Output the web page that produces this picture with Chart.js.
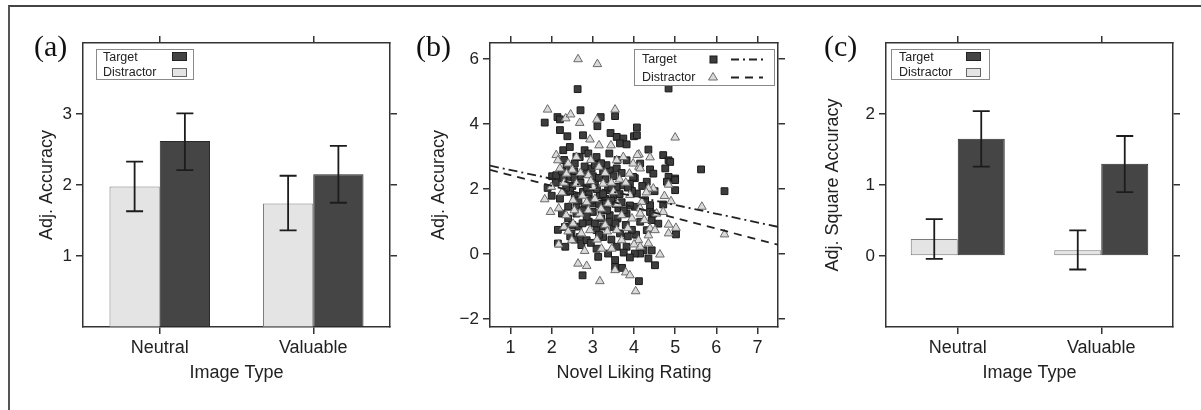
<!DOCTYPE html>
<html>
<head>
<meta charset="utf-8">
<script src="https://cdn.jsdelivr.net/npm/chart.js@4.4.1/dist/chart.umd.min.js"></script>
<style>
    body { margin: 0; background: #fff; }
    #fig { position: relative; width: 1201px; height: 410px; overflow: hidden; background: #fff; font-family: 'Liberation Sans', Arial, sans-serif; color: #222; }
    #fig canvas { position: absolute; top: 0; }
    .frame { position: absolute; left: 8px; top: 5px; right: -4px; bottom: -4px; border-top: 2px solid #444; border-left: 2px solid #555; }
    .tag { position: absolute; top: 31px; font: 30px 'Liberation Serif', 'DejaVu Serif', serif; line-height: 30px; color: #111; }
    .key { position: absolute; box-sizing: border-box; border: 1.5px solid #8a8a8a; background: #fff; font-size: 12.5px; line-height: 15px; }
    .key span { position: absolute; }
    .sw { position: absolute; width: 15px; height: 9px; box-sizing: border-box; }
    .sw.dark { background: #444; border: 1px solid #222; }
    .sw.light { background: #e4e4e4; border: 1px solid #666; }
</style>
</head>
<body>
<div id="fig">
    <div class="frame"></div>
    <canvas id="chartA" width="400" height="410" style="left:0"></canvas>
    <canvas id="chartB" width="400" height="410" style="left:400px"></canvas>
    <canvas id="chartC" width="401" height="410" style="left:800px"></canvas>

    <div class="tag" style="left:34px">(a)</div>
    <div class="tag" style="left:416px">(b)</div>
    <div class="tag" style="left:824px">(c)</div>

    <div class="key" style="left:96px;top:49px;width:98px;height:31px">
        <span style="left:6px;top:0">Target</span>
        <span style="left:6px;top:15px">Distractor</span>
        <div class="sw dark" style="left:75px;top:2px"></div>
        <div class="sw light" style="left:75px;top:18px"></div>
    </div>

    <div class="key" style="left:634px;top:49px;width:141px;height:37px">
        <span style="left:7px;top:2px">Target</span>
        <span style="left:7px;top:20px">Distractor</span>
        <svg width="141" height="37" style="position:absolute;left:-1.5px;top:-1.5px">
            <rect x="76" y="7" width="7" height="7" fill="#3d3d3d" stroke="#1a1a1a" stroke-width="1"/>
            <polygon points="79,23.5 83.5,31 74.5,31" fill="#d9d9d9" stroke="#6e6e6e" stroke-width="1"/>
            <line x1="97" y1="10.5" x2="131" y2="10.5" stroke="#222" stroke-width="2" stroke-dasharray="8 4 2 4"/>
            <line x1="97" y1="28.5" x2="129" y2="28.5" stroke="#222" stroke-width="2" stroke-dasharray="8 6"/>
        </svg>
    </div>

    <div class="key" style="left:891px;top:49px;width:99px;height:31px">
        <span style="left:7px;top:0">Target</span>
        <span style="left:7px;top:15px">Distractor</span>
        <div class="sw dark" style="left:74px;top:2px"></div>
        <div class="sw light" style="left:74px;top:18px"></div>
    </div>
</div>

<script>
// ---- data ----
const imageTypes = ['Neutral', 'Valuable'];

// (a) adjusted accuracy
const accTarget = [2.62, 2.15];
const accTargetLo = [2.21, 1.75];
const accTargetHi = [3.01, 2.55];
const accDistractor = [1.98, 1.74];
const accDistractorLo = [1.63, 1.36];
const accDistractorHi = [2.33, 2.13];
const accTicks = [1, 2, 3];

// (c) adjusted square accuracy
const sqTarget = [1.65, 1.30];
const sqTargetLo = [1.26, 0.90];
const sqTargetHi = [2.04, 1.69];
const sqDistractor = [0.24, 0.08];
const sqDistractorLo = [-0.04, -0.19];
const sqDistractorHi = [0.52, 0.36];
const sqTicks = [0, 1, 2];

// (b) novel liking rating vs adj. accuracy
const likingTicks = [1, 2, 3, 4, 5, 6, 7];
const likingRange = [0.5, 7.5];
const scatterTicks = [-2, 0, 2, 4, 6];
const targetFit = [2.86, -0.269];      // intercept, slope
const distractorFit = [2.76, -0.329];

const targetPts = [
    [2.63, 5.08], [1.83, 4.05], [2.14, 4.22], [2.20, 4.15], [2.70, 4.43], [3.19, 4.22], [3.11, 3.94], [3.54, 4.25],
    [2.20, 3.82], [2.38, 3.63], [2.76, 3.66], [3.43, 3.73], [3.58, 3.61], [3.74, 3.56], [3.66, 3.41], [3.82, 3.38],
    [4.00, 3.63], [4.07, 3.90], [2.80, 3.20], [2.28, 3.20], [2.44, 3.30], [4.84, 5.10], [4.07, 3.66], [4.35, 3.22],
    [4.71, 3.05], [4.84, 2.89], [4.88, 2.84], [4.39, 2.61], [4.76, 2.64], [5.63, 2.61], [4.84, 2.38], [5.00, 2.33],
    [6.20, 1.94], [4.50, 1.94], [5.00, 2.28], [5.00, 1.97], [4.71, 1.53], [4.39, 1.51], [4.39, 1.30], [4.43, 1.05],
    [4.59, 0.94], [5.02, 0.61], [4.23, 0.12], [4.43, 0.12], [4.35, -0.13], [4.51, -0.34], [4.12, -0.83], [4.02, 2.34],
    [1.90, 2.04], [2.33, 0.23], [3.13, -0.08], [2.75, -0.65], [3.54, -0.18], [3.71, -0.42],
    [2.01, 2.40], [2.11, 2.43], [2.28, 2.33], [2.46, 2.38], [2.68, 2.38], [2.85, 2.48], [3.05, 2.23], [3.25, 2.53],
    [3.41, 2.58], [3.58, 2.64], [2.36, 1.92], [2.56, 1.76], [2.76, 1.92], [2.97, 2.07], [3.17, 1.82], [3.37, 1.97],
    [3.58, 2.07], [3.74, 2.12], [3.90, 2.17], [3.98, 2.38], [4.07, 1.87], [2.20, 1.71], [2.40, 1.46], [2.60, 1.25],
    [2.80, 1.46], [3.01, 1.56], [3.21, 1.35], [3.41, 1.20], [3.62, 1.41], [3.82, 1.25], [4.02, 1.46], [4.27, 1.66],
    [4.47, 1.25], [2.32, 0.84], [2.48, 0.64], [2.68, 0.53], [2.72, 0.28], [3.09, 0.74], [3.25, 0.53], [3.50, 0.84],
    [3.66, 0.64], [3.82, 0.23], [3.58, 0.23], [3.09, 0.17], [2.15, 0.33], [4.15, 1.00], [4.31, 0.74], [4.80, 2.23],
    [2.68, 2.99], [2.89, 3.10], [3.09, 2.99], [3.33, 2.74], [2.56, 2.79], [2.36, 2.69], [3.82, 2.89], [4.15, 2.79],
    [4.47, 2.48], [4.31, 2.23], [2.97, 2.64], [4.15, 0.02], [3.54, -0.39], [2.85, 0.43], [3.37, 0.02], [4.02, 0.02],
    [2.50, 2.10], [2.70, 2.20], [2.90, 1.90], [3.10, 2.00], [3.30, 1.70], [3.50, 1.80], [3.70, 1.60], [3.90, 1.50],
    [3.00, 1.30], [3.20, 1.10], [3.40, 1.00], [3.60, 1.10], [3.80, 0.90], [2.90, 1.00], [2.60, 1.50], [2.40, 1.10],
    [2.50, 0.90], [3.30, 2.30], [3.50, 2.40], [3.70, 2.50], [3.00, 2.40], [2.80, 2.70], [3.20, 2.80], [3.60, 2.90],
    [3.40, 3.10], [2.60, 3.00], [2.30, 2.90], [2.10, 2.20], [2.00, 1.80], [3.95, 1.95], [4.20, 2.10], [3.15, 0.60],
    [3.45, 0.45], [2.95, 0.35], [3.75, 0.05], [2.55, 0.45], [4.05, 0.60], [3.90, -0.10], [3.30, 1.55], [2.45, 1.95],
    [2.25, 2.55], [2.35, 2.05], [2.55, 2.55], [2.65, 1.65], [2.75, 1.35], [2.85, 2.05], [2.95, 1.65], [3.05, 2.75],
    [3.15, 2.35], [3.25, 1.85], [3.35, 1.35], [3.45, 2.05], [3.55, 1.55], [3.65, 1.85], [3.75, 1.35], [3.85, 2.05],
    [3.95, 0.75], [3.05, 0.95], [2.65, 0.85], [2.45, 0.55], [3.55, 0.95], [3.25, 0.85], [2.85, 1.15], [3.45, 1.65],
    [2.25, 1.25], [2.15, 0.75], [2.55, 2.35], [3.85, 0.55], [3.15, 1.55], [2.75, 0.95]
];

const distractorPts = [
    [2.64, 6.00], [3.11, 5.85], [1.90, 4.45], [2.34, 4.18], [2.46, 4.30], [2.68, 4.04], [3.10, 4.14], [3.54, 4.45],
    [2.93, 3.53], [3.15, 3.35], [3.44, 3.35], [5.00, 3.59], [4.12, 3.07], [4.39, 2.98], [4.12, 2.69], [4.47, 2.02],
    [4.84, 2.14], [5.65, 1.46], [6.20, 0.61], [4.74, 1.79], [4.90, 1.63], [4.19, 1.61], [4.15, 1.41], [4.71, 1.30],
    [4.84, 0.91], [5.02, 0.81], [4.39, 0.79], [4.35, 0.58], [4.11, 0.43], [4.35, 0.33], [4.63, -0.01], [4.04, -1.14],
    [1.83, 1.69], [1.97, 1.30], [2.17, 1.41], [2.30, 0.84], [2.17, 0.30], [2.64, -0.29], [2.85, -0.36], [3.17, -0.83],
    [3.54, -0.49], [3.80, -0.56], [3.90, -0.65], [2.11, 3.05], [2.15, 2.89], [2.40, 2.79], [2.60, 2.99], [3.74, 2.99],
    [4.08, 3.05], [4.15, 2.64], [1.99, 2.07], [2.49, 0.43], [4.15, 0.23], [4.51, 0.74], [4.84, 0.64], [4.35, 2.02],
    [4.55, 1.25], [4.15, 1.25], [2.52, 1.66], [2.68, 1.25], [2.89, 1.35], [3.17, 1.15], [3.37, 1.56], [3.58, 0.74],
    [3.70, 0.43], [3.46, 0.17], [3.21, 0.17], [2.93, 0.74], [2.72, 0.64], [2.52, 0.94], [3.01, 2.07], [3.25, 2.17],
    [3.50, 1.92], [3.90, 1.82], [3.98, 2.79], [3.58, 2.89], [2.89, 2.43], [2.36, 2.48], [2.60, 2.17], [3.15, 2.69],
    [3.89, 2.48], [2.20, 2.64], [3.30, 0.90], [2.80, 0.10], [3.95, 1.10], [3.65, 2.30], [2.75, 1.80], [3.05, 1.70],
    [4.30, 1.90], [2.35, 1.20], [2.30, 2.20], [2.50, 2.60], [2.70, 2.50], [2.95, 2.90], [3.30, 2.50], [3.45, 2.20],
    [3.80, 2.20], [2.55, 1.35], [2.85, 1.60], [3.10, 0.45], [3.35, 0.70], [3.70, 1.20], [2.40, 0.70], [4.00, 0.30],
    [3.60, 1.55], [2.25, 1.90], [4.25, 1.05], [3.85, 0.80], [2.95, 2.25], [3.20, 1.40]
];

// ---- shared styling ----
const INK = '#333';
const tickFont = { family: "'Liberation Sans', Arial, sans-serif", size: 17 };
const titleFont = { family: "'Liberation Sans', Arial, sans-serif", size: 18 };

const useTicks = (vals) => (axis) => { axis.ticks = vals.map(v => ({ value: v })); };
const fixW = (w) => (axis) => { axis.width = w; };
const fixH = (h) => (axis) => { axis.height = h; };
const minus = (v) => String(v).replace('-', '\u2212');

const edge = { display: true, color: INK, width: 1.5 };
const gridOut = { drawOnChartArea: false, drawTicks: true, tickLength: 7, color: INK, lineWidth: 1.5, offset: false };

function valueAxis(pos, min, max, ticks, title, width) {
    const main = pos === 'left';
    return {
        type: 'linear', position: pos, min, max,
        afterBuildTicks: useTicks(ticks),
        afterFit: fixW(width),
        border: edge,
        grid: gridOut,
        ticks: { display: main, color: '#222', font: tickFont, padding: 4, callback: minus },
        title: { display: main && !!title, text: title, color: '#222', font: titleFont, padding: 0 }
    };
}

function bandAxis(pos, height, title) {
    const main = pos === 'bottom';
    return {
        type: 'category', position: pos, offset: true,
        afterFit: fixH(height),
        border: edge,
        grid: gridOut,
        ticks: { display: main, color: '#222', font: { ...tickFont, size: 18 }, padding: 3 },
        title: { display: main, text: title, color: '#222', font: titleFont, padding: 0 }
    };
}

const errorBars = {
    id: 'errorBars',
    afterDatasetsDraw(chart) {
        const { ctx, scales: { y } } = chart;
        ctx.save();
        ctx.strokeStyle = '#1c1c1c';
        ctx.lineWidth = 1.8;
        chart.data.datasets.forEach((ds, i) => {
            if (!ds.errLo) return;
            chart.getDatasetMeta(i).data.forEach((bar, j) => {
                const hi = y.getPixelForValue(ds.errHi[j]);
                const lo = y.getPixelForValue(ds.errLo[j]);
                ctx.beginPath();
                ctx.moveTo(bar.x, hi); ctx.lineTo(bar.x, lo);
                ctx.moveTo(bar.x - 8.5, hi); ctx.lineTo(bar.x + 8.5, hi);
                ctx.moveTo(bar.x - 8.5, lo); ctx.lineTo(bar.x + 8.5, lo);
                ctx.stroke();
            });
        });
        ctx.restore();
    }
};

const barSet = (label, data, lo, hi, dark) => ({
    label, data, errLo: lo, errHi: hi,
    backgroundColor: dark ? '#454545' : '#e4e4e4',
    borderColor: dark ? '#2a2a2a' : '#7a7a7a',
    borderWidth: 1,
    borderSkipped: false,
    categoryPercentage: 0.655,
    barPercentage: 1
});

function barChart(id, dsets, yMin, yMax, ticks, yTitle, pad, yWidth) {
    return new Chart(document.getElementById(id), {
        type: 'bar',
        data: { labels: imageTypes, datasets: dsets },
        options: {
            responsive: false, animation: false, devicePixelRatio: 1,
            layout: { padding: pad },
            plugins: { legend: { display: false }, tooltip: { enabled: false } },
            scales: {
                x: bandAxis('bottom', 57, 'Image Type'),
                x2: bandAxis('top', 7),
                y: valueAxis('left', yMin, yMax, ticks, yTitle, yWidth),
                y2: valueAxis('right', yMin, yMax, ticks, '', 7)
            }
        },
        plugins: [errorBars]
    });
}

barChart('chartA', [
    barSet('Distractor', accDistractor, accDistractorLo, accDistractorHi, false),
    barSet('Target', accTarget, accTargetLo, accTargetHi, true)
], 0, 4, accTicks, 'Adj. Accuracy', { left: 36, right: 3, top: 36, bottom: 26 }, 47);

barChart('chartC', [
    barSet('Distractor', sqDistractor, sqDistractorLo, sqDistractorHi, false),
    barSet('Target', sqTarget, sqTargetLo, sqTargetHi, true)
], -1, 3, sqTicks, 'Adj. Square Accuracy', { left: 22, right: 21, top: 36, bottom: 26 }, 64);

// fit lines across the whole x range
const fitLine = (fit) => likingRange.map(x => ({ x, y: fit[0] + fit[1] * x }));

new Chart(document.getElementById('chartB'), {
    type: 'scatter',
    data: {
        datasets: [
            {
                type: 'line', label: 'Target fit', data: fitLine(targetFit),
                borderColor: '#222', borderWidth: 1.8, borderDash: [9, 4, 2, 4],
                pointRadius: 0, fill: false, order: 0
            },
            {
                type: 'line', label: 'Distractor fit', data: fitLine(distractorFit),
                borderColor: '#222', borderWidth: 1.8, borderDash: [8, 6],
                pointRadius: 0, fill: false, order: 1
            },
            {
                label: 'Distractor', data: distractorPts.map(([x, y]) => ({ x, y })),
                pointStyle: 'triangle', pointRadius: 5,
                backgroundColor: '#dadada', borderColor: '#6a6a6a', borderWidth: 1, order: 2
            },
            {
                label: 'Target', data: targetPts.map(([x, y]) => ({ x, y })),
                pointStyle: 'rect', pointRadius: 4.8,
                backgroundColor: '#3d3d3d', borderColor: '#1a1a1a', borderWidth: 1, order: 3
            }
        ]
    },
    options: {
        responsive: false, animation: false, devicePixelRatio: 1,
        layout: { padding: { left: 28, right: 15, top: 36, bottom: 26 } },
        plugins: { legend: { display: false }, tooltip: { enabled: false } },
        scales: {
            x: {
                ...valueAxis('left', likingRange[0], likingRange[1], likingTicks, '', 0),
                position: 'bottom', afterFit: fixH(57),
                ticks: { display: true, color: '#222', font: { ...tickFont, size: 18 }, padding: 3 },
                title: { display: true, text: 'Novel Liking Rating', color: '#222', font: titleFont, padding: 0 }
            },
            x2: {
                ...valueAxis('right', likingRange[0], likingRange[1], likingTicks, '', 0),
                position: 'top', afterFit: fixH(7)
            },
            y: valueAxis('left', -2.24, 6.5, scatterTicks, 'Adj. Accuracy', 62),
            y2: valueAxis('right', -2.24, 6.5, scatterTicks, '', 7)
        }
    }
});
</script>
</body>
</html>
